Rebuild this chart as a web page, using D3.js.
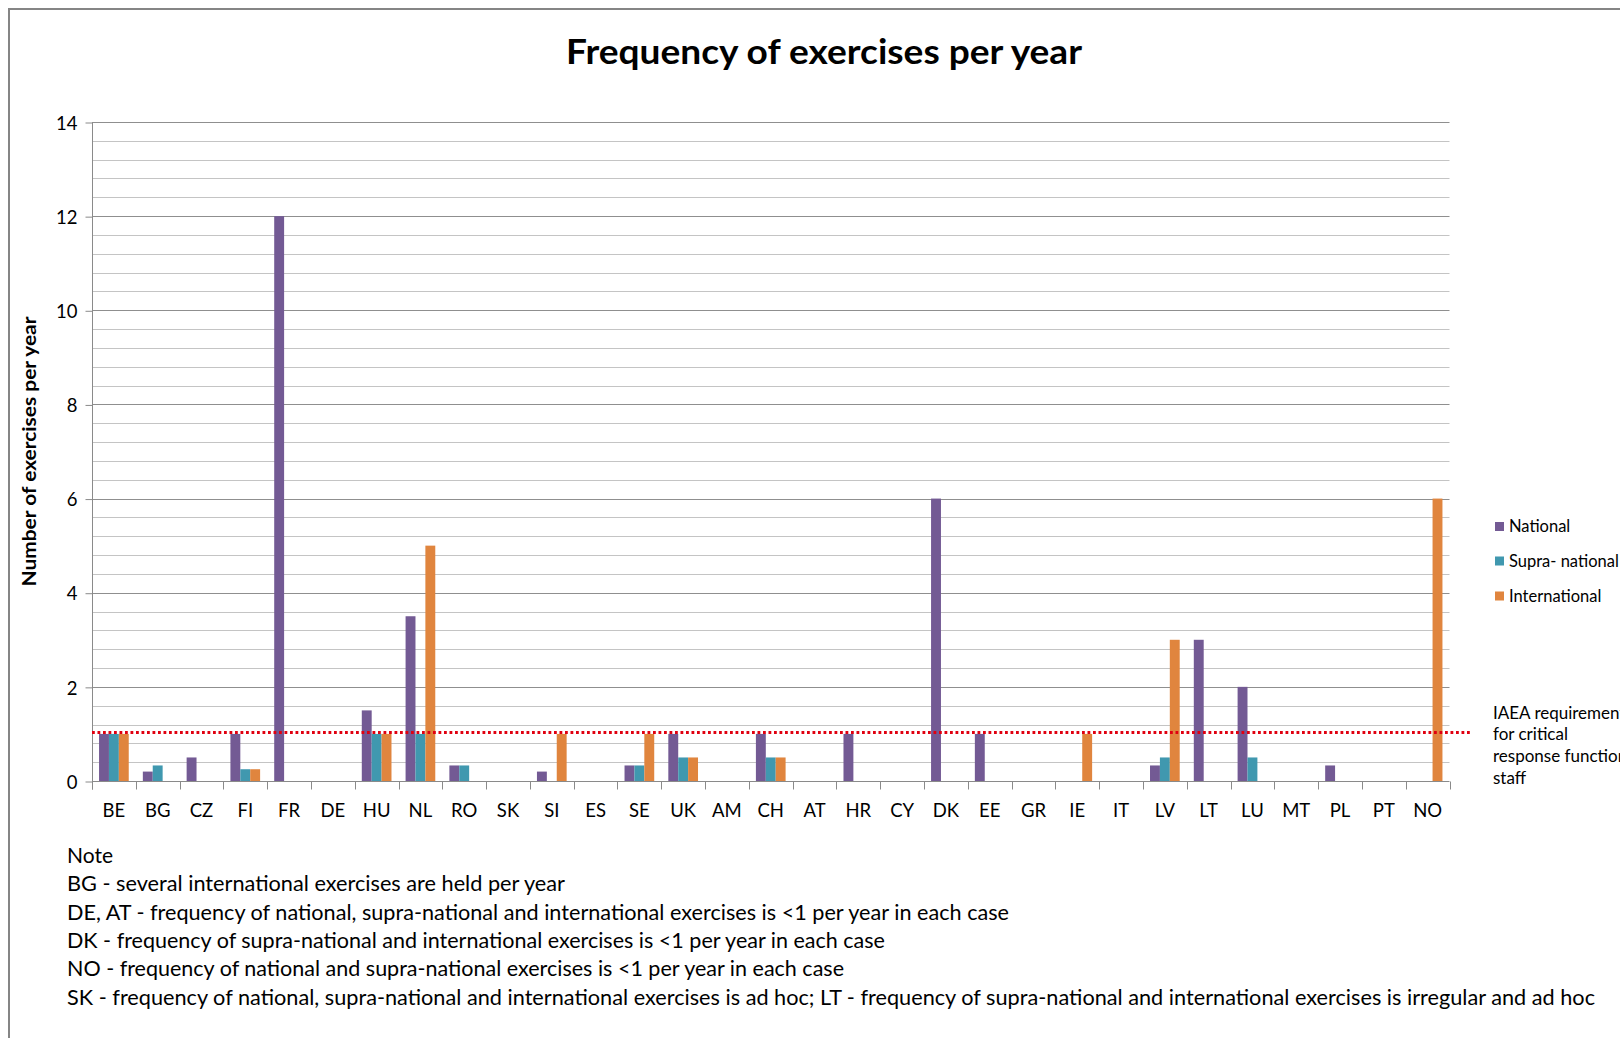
<!DOCTYPE html>
<html>
<head>
<meta charset="utf-8">
<script src="https://cdn.jsdelivr.net/npm/d3@7"></script>
<style>
  html, body { margin: 0; padding: 0; background: #fff; }
  svg { display: block; }
  text { font-family: Lato, "Open Sans", sans-serif; fill: #000; }
</style>
</head>
<body>
<svg id="chart" width="1620" height="1038"></svg>
<script>
// Exercise frequency per country, one value per series
const categories = ["BE","BG","CZ","FI","FR","DE","HU","NL","RO","SK","SI","ES","SE","UK","AM","CH","AT","HR","CY","DK","EE","GR","IE","IT","LV","LT","LU","MT","PL","PT","NO"];
const national      = [1, 0.2, 0.5, 1, 12, 0, 1.5, 3.5, 0.33, 0, 0.2, 0, 0.33, 1, 0, 1, 0, 1, 0, 6, 1, 0, 0, 0, 0.33, 3, 2, 0, 0.33, 0, 0];
const supraNational = [1, 0.33, 0, 0.25, 0, 0, 1, 1, 0.33, 0, 0, 0, 0.33, 0.5, 0, 0.5, 0, 0, 0, 0, 0, 0, 0, 0, 0.5, 0, 0.5, 0, 0, 0, 0];
const international = [1, 0, 0, 0.25, 0, 0, 1, 5, 0, 0, 1, 0, 1, 0.5, 0, 0.5, 0, 0, 0, 0, 0, 0, 1, 0, 3, 0, 0, 0, 0, 0, 6];

const seriesNames = ["National", "Supra- national", "International"];
const seriesColors = ["#735a94", "#4098af", "#e0853e"];
const yTicks = [0, 2, 4, 6, 8, 10, 12, 14];
const yMax = 14;
const minorStep = 0.4;
const iaeaLevel = 1.03;

const title = "Frequency of exercises per year";
const yTitle = "Number of exercises per year";
const iaeaLabel = ["IAEA requirement", "for critical", "response function", "staff"];
const notes = [
  "Note",
  "BG - several international exercises are held per year",
  "DE, AT - frequency of national, supra-national and international exercises is <1 per year in each case",
  "DK - frequency of supra-national and international exercises is <1 per year in each case",
  "NO - frequency of national and supra-national exercises is <1 per year in each case",
  "SK - frequency of national, supra-national and international exercises is ad hoc; LT - frequency of supra-national and international exercises is irregular and ad hoc"
];
const noteWidths = [46, 498, 942, 818, 777, 1528];

const seriesValues = [national, supraNational, international];
const rows = categories.map((c, i) => ({
  cat: c,
  vals: seriesNames.map((s, k) => ({ series: s, k, v: seriesValues[k][i] }))
}));

const svg = d3.select("#chart");

// chart frame
svg.append("rect")
  .attr("x", 9).attr("y", 9).attr("width", 1700).attr("height", 1100)
  .attr("fill", "none").attr("stroke", "#858585").attr("stroke-width", 2);

const plot = { left: 92, right: 1449.5, top: 122, bottom: 781 };

const x0 = d3.scaleBand().domain(categories).range([plot.left, plot.right]).paddingInner(0).paddingOuter(0);
const x1 = d3.scaleBand().domain(seriesNames).range([0, x0.bandwidth()]).paddingInner(0).paddingOuter(0.712);
const y = d3.scaleLinear().domain([0, yMax]).range([plot.bottom, plot.top]);

const crisp = v => Math.round(v) + 0.5;

// minor gridlines
const minorVals = d3.range(0, Math.round(yMax / minorStep) + 1).map(i => +(i * minorStep).toFixed(2))
  .filter(v => !yTicks.includes(v));
svg.append("g").selectAll("line").data(minorVals).join("line")
  .attr("x1", plot.left).attr("x2", plot.right)
  .attr("y1", d => crisp(y(d))).attr("y2", d => crisp(y(d)))
  .attr("stroke", "#c4c4c4").attr("stroke-width", 1);

// major gridlines
svg.append("g").selectAll("line").data(yTicks.filter(v => v > 0)).join("line")
  .attr("x1", plot.left).attr("x2", plot.right)
  .attr("y1", d => crisp(y(d))).attr("y2", d => crisp(y(d)))
  .attr("stroke", "#8f8f8f").attr("stroke-width", 1);

// y axis
const yAxis = d3.axisLeft(y).tickValues(yTicks).tickSize(7).tickPadding(8).tickFormat(d3.format("d"));
const gy = svg.append("g").attr("transform", `translate(${plot.left + 0.5},0.5)`).call(yAxis);
gy.select(".domain").attr("stroke", "#8a8a8a").attr("d", `M0,${plot.top}V${plot.bottom + 8}`);
gy.selectAll(".tick line").attr("stroke", "#8a8a8a");
gy.selectAll(".tick text").attr("font-family", "Lato").attr("font-size", 18.5).attr("fill", "#000").attr("dy", "0.36em");

// bars
const groups = svg.append("g").selectAll("g").data(rows).join("g")
  .attr("transform", d => `translate(${x0(d.cat)},0)`);
groups.selectAll("rect").data(d => d.vals.filter(v => v.v > 0)).join("rect")
  .attr("x", d => x1(d.series))
  .attr("width", x1.bandwidth())
  .attr("y", d => y(d.v))
  .attr("height", d => y(0) - y(d.v))
  .attr("fill", d => seriesColors[d.k]);

// x axis with ticks between categories
const gx = svg.append("g").attr("transform", `translate(0,${plot.bottom + 0.5})`);
gx.append("line").attr("x1", plot.left).attr("x2", plot.right).attr("stroke", "#8a8a8a");
const boundaries = categories.map(c => x0(c)).concat([plot.right]);
gx.selectAll(".b").data(boundaries).join("line").attr("class", "b")
  .attr("x1", d => crisp(d)).attr("x2", d => crisp(d)).attr("y1", 0).attr("y2", 8)
  .attr("stroke", "#8a8a8a");
gx.selectAll("text").data(categories).join("text")
  .attr("x", d => x0(d) + x0.bandwidth() / 2)
  .attr("y", 35.5)
  .attr("text-anchor", "middle")
  .attr("font-size", 18.5)
  .text(d => d);

// IAEA requirement level
svg.append("line")
  .attr("x1", plot.left).attr("x2", 1472)
  .attr("y1", y(iaeaLevel)).attr("y2", y(iaeaLevel))
  .attr("stroke", "#e00010").attr("stroke-width", 3)
  .attr("stroke-dasharray", "2.8 2.7");

// legend
const legend = svg.append("g");
const legendY = [526.5, 561, 596];
seriesNames.forEach((s, k) => {
  legend.append("rect").attr("x", 1495).attr("y", legendY[k] - 4.5).attr("width", 9).attr("height", 9).attr("fill", seriesColors[k]);
  legend.append("text").attr("x", 1509).attr("y", legendY[k] + 5.5).attr("font-size", 16.5).text(s);
});

// IAEA annotation
svg.append("g").selectAll("text").data(iaeaLabel).join("text")
  .attr("x", 1493)
  .attr("y", (d, i) => 718.5 + i * 21.7)
  .attr("font-size", 17)
  .text(d => d);

// title
svg.append("text")
  .attr("x", 566).attr("y", 64)
  .attr("font-size", 35).attr("font-weight", "bold")
  .attr("textLength", 516).attr("lengthAdjust", "spacingAndGlyphs")
  .text(title);

// y axis title
svg.append("text")
  .attr("transform", "translate(36,451.5) rotate(-90)")
  .attr("text-anchor", "middle")
  .attr("font-size", 19).attr("font-weight", "bold")
  .attr("textLength", 270).attr("lengthAdjust", "spacingAndGlyphs")
  .text(yTitle);

// notes below the chart
svg.append("g").selectAll("text").data(notes).join("text")
  .attr("x", 67)
  .attr("y", (d, i) => 863 + i * 28.3)
  .attr("font-size", 20.5)
  .attr("textLength", (d, i) => noteWidths[i])
  .attr("lengthAdjust", "spacingAndGlyphs")
  .text(d => d);
</script>
</body>
</html>
